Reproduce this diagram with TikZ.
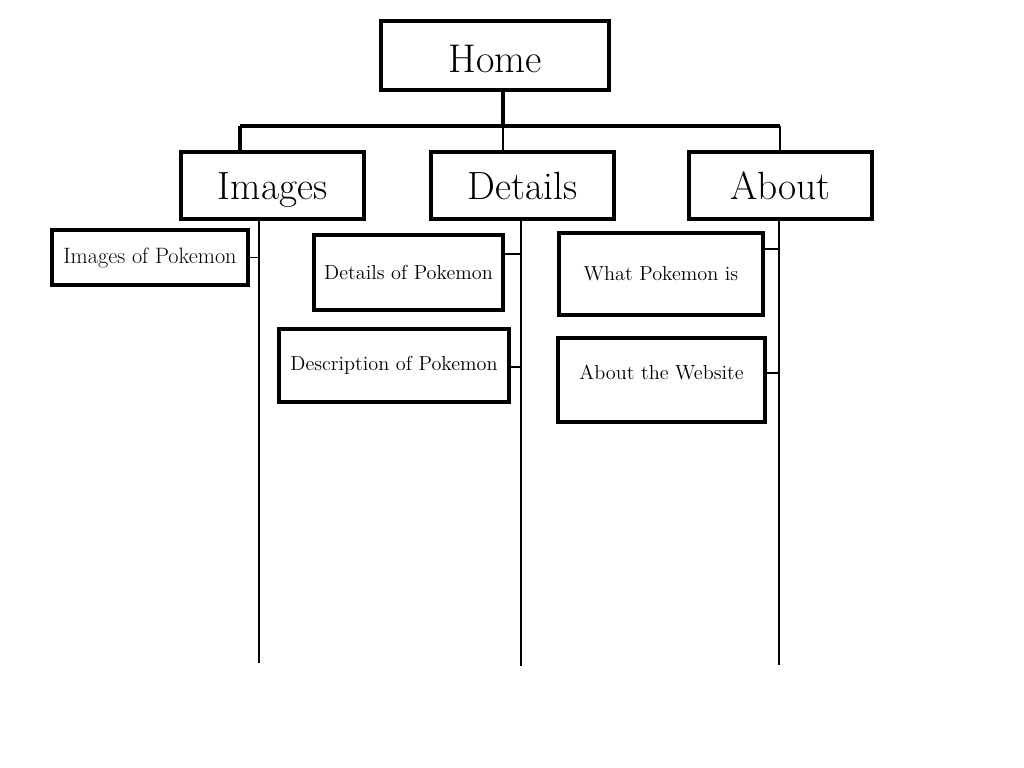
\documentclass[tikz,border=0pt]{standalone}
\usepackage{tikz}
\usetikzlibrary{positioning}

\begin{document}
\begin{tikzpicture}[
    x=0.025cm, y=-0.025cm,
    page/.style={
		rectangle,
		draw=black,
		line width=2.4pt,
		text centered,
		font=\fontsize{28}{32}\selectfont,
		text height=0.7cm,
		text depth=0pt,
		minimum width=4.575cm,
		minimum height=1.675cm,
		fill=white
	},
	sub/.style={
		rectangle,
		draw=black,
		line width=2.4pt,
		text centered,
		font=\fontsize{14.4}{17}\selectfont,
		fill=white
	},
	bus/.style={
		line width=2.4pt
	},
	trunk/.style={
		line width=1.2pt
	}
  ]
  \useasboundingbox (0,0) rectangle (1024,768);

    % We start by placing the blocks
  \node [page, font=\fontsize{28.5}{32}\selectfont, text height=0.86cm,
         minimum width=5.7cm, minimum height=1.725cm] (home) at (495,55.5) {Home};

  \node [page] (images) at (272.5,185.5) {Images};
  \node [page] (details) at (522.5,185.5) {Details};
  \node [page] (about) at (780.5,185.5) {About};

  \node [sub, font=\fontsize{15.8}{18}\selectfont, minimum width=4.9cm, minimum height=1.375cm] (imgpoke) at (150,257.5) {Images of Pokemon};
  \node [sub, minimum width=4.725cm, minimum height=1.875cm] (detpoke) at (408.5,272.5) {Details of Pokemon};
  \node [sub, minimum width=5.75cm, minimum height=1.825cm] (descpoke) at (394,365.5) {Description of Pokemon};
  \node [sub, minimum width=5.1cm, minimum height=2.05cm] (whatpoke) at (661,274) {What Pokemon is};
  \node [sub, text height=0.35cm, text depth=0.4cm,
         minimum width=5.175cm, minimum height=2.1cm] (website) at (661.5,380) {About the Website};

  % junctions
  \coordinate (busmid) at (503,126);
  \coordinate (busleft) at (240,126);
  \coordinate (busright) at (780,126);
  \coordinate (imgend) at (259,663);
  \coordinate (detend) at (521,666);
  \coordinate (aboend) at (779,665);
  \coordinate (det1) at (521,254);
  \coordinate (det2) at (521,367);
  \coordinate (abo1) at (779,249);
  \coordinate (abo2) at (779,373);

  \draw [bus] (home.south -| busmid) -- (busmid);
  \draw [bus] (busleft) -- (busright);
  \draw [bus] (busleft) -- (images.north -| busleft);
  \draw [trunk] (busmid) -- (details.north -| busmid);
  \draw [trunk] (busright) -- (about.north -| busright);

  \draw [trunk] (images.south -| imgend) -- (imgend);
  \draw [trunk] (details.south -| detend) -- (detend);
  \draw [trunk] (about.south -| aboend) -- (aboend);

  \draw [trunk] (imgpoke.east) -- (imgpoke.east -| imgend);
  \draw [trunk] (det1 -| detpoke.east) -- (det1);
  \draw [trunk] (det2 -| descpoke.east) -- (det2);
  \draw [trunk] (abo1 -| whatpoke.east) -- (abo1);
  \draw [trunk] (abo2 -| website.east) -- (abo2);

\end{tikzpicture}
\end{document}
